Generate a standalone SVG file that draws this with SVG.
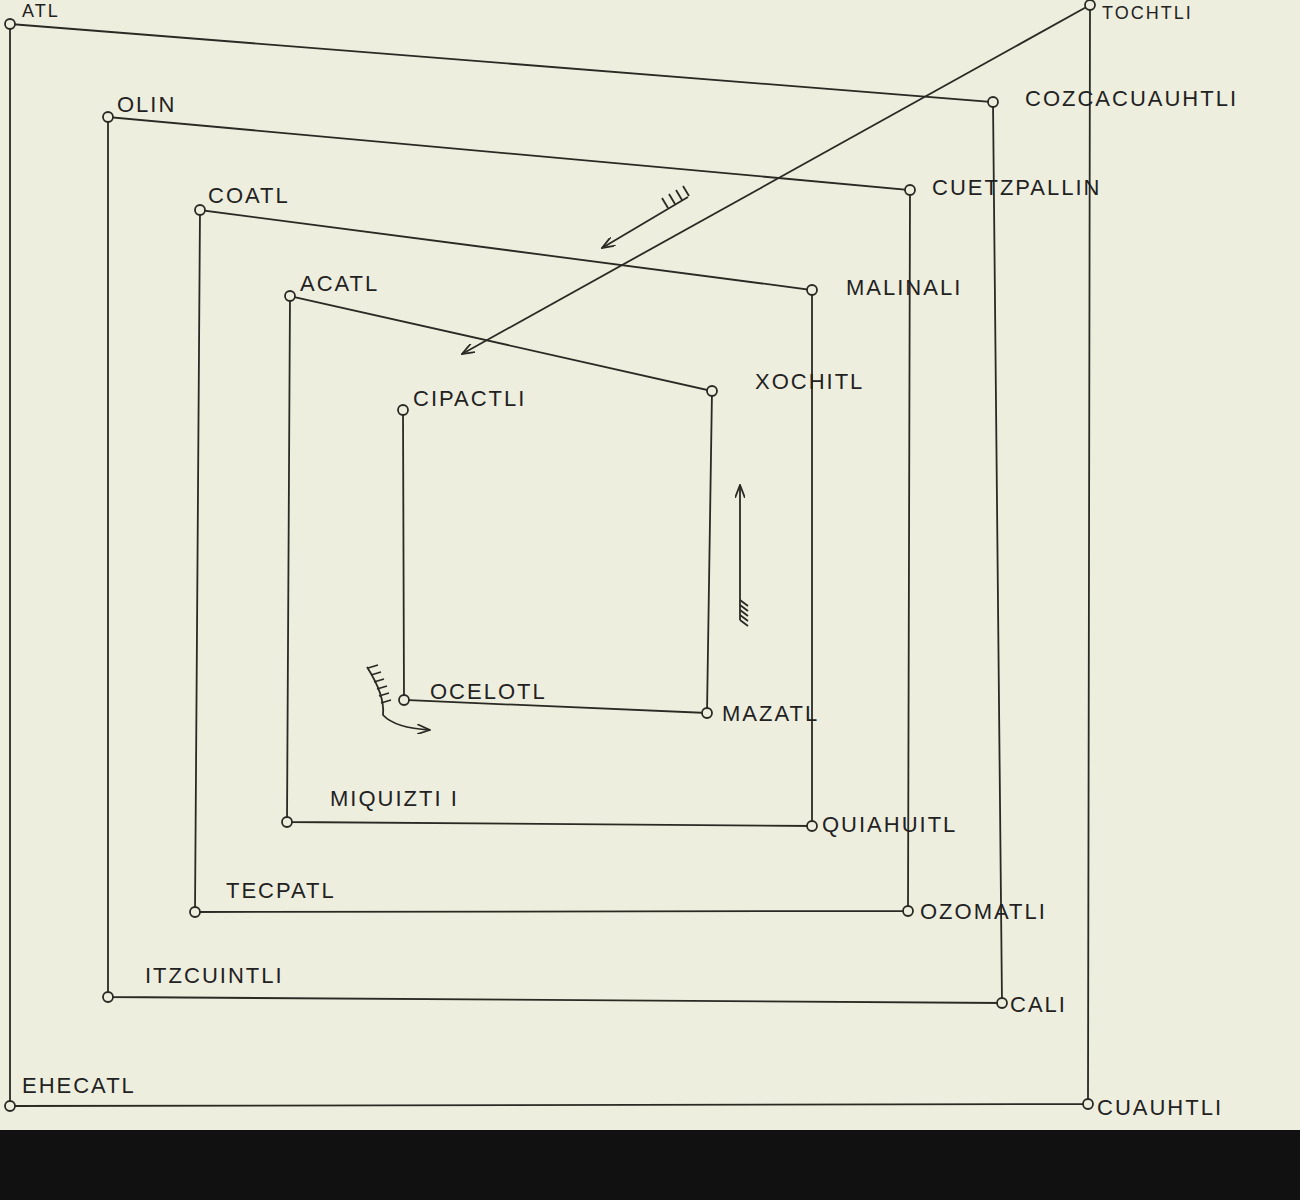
<svg xmlns="http://www.w3.org/2000/svg" width="1300" height="1200" viewBox="0 0 1300 1200">
<style>
.l{stroke:#2a2a24;stroke-width:1.8;fill:none}
.n{stroke:#2a2a24;stroke-width:1.8;fill:#eeeedf}
text{font-family:"Liberation Sans",Arial,sans-serif;font-size:22px;fill:#222;letter-spacing:2px}
.s{font-size:18px}
</style>
<defs>
<marker id="ah" markerWidth="14" markerHeight="10" refX="13" refY="5" orient="auto" markerUnits="userSpaceOnUse"><path d="M0,0 L13,5 L0,10" fill="none" stroke="#2a2a24" stroke-width="1.8"/></marker>
</defs>
<rect width="1300" height="1200" fill="#eeeedf"/>
<g id="connectors" class="l">
<path d="M10,24 L993,102 L1002,1003 L108,997 L108,117 L910,190 L908,911 L195,912 L200,210 L812,290 L812,826 L287,822 L290,296 L712,391 L707,713 L404,700 L403,410"/>
<path d="M1090,5 L1088,1104 L10,1106 L10,24"/>
<path d="M1090,5 L462,354" marker-end="url(#ah)"/>
<path d="M688,197 L602,248" marker-end="url(#ah)"/>
<path d="M668,208 l-6,-10 M675,204 l-6,-10 M682,200 l-6,-10 M689,196 l-6,-10" />
<path d="M740,620 L740,485" marker-end="url(#ah)"/>
<path d="M740,600 l8,6 M740,605 l8,6 M740,610 l8,6 M740,615 l8,6 M740,620 l8,6"/>
<path d="M367,667 Q385,695 383,715 Q395,728 430,730" marker-end="url(#ah)"/>
<path d="M368,668 l10,-3 M371,675 l10,-3 M374,682 l10,-3 M377,689 l10,-3 M379,696 l10,-3 M381,703 l10,-3"/>
</g>
<g id="ATL"><circle class="n" cx="10" cy="24" r="5"/><text class="s" x="22" y="17">ATL</text></g>
<g id="TOCHTLI"><circle class="n" cx="1090" cy="5" r="5"/><text class="s" x="1102" y="19">TOCHTLI</text></g>
<g id="COZCACUAUHTLI"><circle class="n" cx="993" cy="102" r="5"/><text x="1025" y="106">COZCACUAUHTLI</text></g>
<g id="OLIN"><circle class="n" cx="108" cy="117" r="5"/><text x="117" y="112">OLIN</text></g>
<g id="CUETZPALLIN"><circle class="n" cx="910" cy="190" r="5"/><text x="932" y="195">CUETZPALLIN</text></g>
<g id="COATL"><circle class="n" cx="200" cy="210" r="5"/><text x="208" y="203">COATL</text></g>
<g id="MALINALI"><circle class="n" cx="812" cy="290" r="5"/><text x="846" y="295">MALINALI</text></g>
<g id="ACATL"><circle class="n" cx="290" cy="296" r="5"/><text x="300" y="291">ACATL</text></g>
<g id="XOCHITL"><circle class="n" cx="712" cy="391" r="5"/><text x="755" y="389">XOCHITL</text></g>
<g id="CIPACTLI"><circle class="n" cx="403" cy="410" r="5"/><text x="413" y="406">CIPACTLI</text></g>
<g id="OCELOTL"><circle class="n" cx="404" cy="700" r="5"/><text x="430" y="699">OCELOTL</text></g>
<g id="MAZATL"><circle class="n" cx="707" cy="713" r="5"/><text x="722" y="721">MAZATL</text></g>
<g id="MIQUIZTLI"><circle class="n" cx="287" cy="822" r="5"/><text x="330" y="806">MIQUIZTI I</text></g>
<g id="QUIAHUITL"><circle class="n" cx="812" cy="826" r="5"/><text x="822" y="832">QUIAHUITL</text></g>
<g id="TECPATL"><circle class="n" cx="195" cy="912" r="5"/><text x="226" y="898">TECPATL</text></g>
<g id="OZOMATLI"><circle class="n" cx="908" cy="911" r="5"/><text x="920" y="919">OZOMATLI</text></g>
<g id="ITZCUINTLI"><circle class="n" cx="108" cy="997" r="5"/><text x="145" y="983">ITZCUINTLI</text></g>
<g id="CALI"><circle class="n" cx="1002" cy="1003" r="5"/><text x="1010" y="1012">CALI</text></g>
<g id="EHECATL"><circle class="n" cx="10" cy="1106" r="5"/><text x="22" y="1093">EHECATL</text></g>
<g id="CUAUHTLI"><circle class="n" cx="1088" cy="1104" r="5"/><text x="1097" y="1115">CUAUHTLI</text></g>
<rect x="0" y="1130" width="1300" height="70" fill="#111"/>
</svg>
